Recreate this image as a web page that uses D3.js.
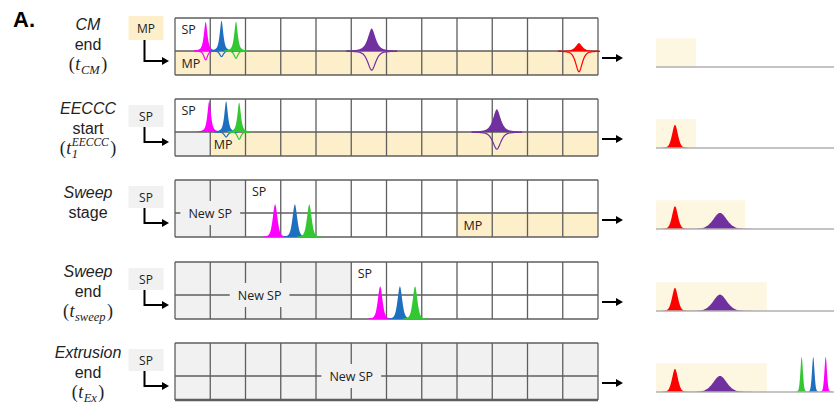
<!DOCTYPE html>
<html>
<head>
<meta charset="utf-8">
<script src="https://cdn.jsdelivr.net/npm/d3@7"></script>
<style>
  body { margin: 0; background: #fff; }
  svg { display: block; }
</style>
</head>
<body>
<svg id="chart" width="834" height="405"></svg>
<script>
// ---- Stage labels --------------------------------------------------------
const stageTitles = ["CM", "EECCC", "Sweep", "Sweep", "Extrusion"];
const stageWords  = ["end", "start", "stage", "end", "end"];
const stageTimes  = [
  { base: "t", sub: "CM" },
  { base: "t", sub: "1", sup: "EECCC" },
  null,
  { base: "t", sub: "sweep" },
  { base: "t", sub: "Ex" }
];
const inletPhase = ["MP", "SP", "SP", "SP", "SP"];

// ---- Column state per stage (in cell units) -------------------------------
const nColumns     = 12;
const newSpUpper   = [0, 0, 2, 5, 12];   // cells of the SP lane filled with new SP
const newSpLower   = [0, 1, 2, 5, 12];   // cells of the MP lane filled with new SP
const mpFrom       = [0, 1, 8, 12, 12];  // first MP-lane cell still holding MP
const spLabelCell  = [0, 0, 2, 5, null];
const mpLabelCell  = [0, 1, 8, null, null];
const newSpCenter  = [null, null, 1, 2.4, 5];

// ---- Solutes ---------------------------------------------------------------
const soluteNames   = ["pink", "blue", "green", "purple", "red"];
const bedWidth      = [0.055, 0.055, 0.055, 0.12, 0.10];   // peak width inside the column (cells)
const elutionWidth  = [0.13, 0.13, 0.13, 0.70, 0.30];      // peak width in the chromatogram

// Peaks inside the column: position (cells), amount in SP lane, amount in MP lane
const lanePeaks = [
  [ { s: "pink",   pos: 0.87,  sp: 0.88, mp: 0.27 },
    { s: "blue",   pos: 1.32,  sp: 0.92, mp: 0.17 },
    { s: "green",  pos: 1.73,  sp: 0.89, mp: 0.22 },
    { s: "purple", pos: 5.58,  sp: 0.68, mp: 0.58 },
    { s: "red",    pos: 11.46, sp: 0.24, mp: 0.63 } ],
  [ { s: "pink",   pos: 0.97,  sp: 0.94, mp: 0.00 },
    { s: "blue",   pos: 1.45,  sp: 0.93, mp: 0.15 },
    { s: "green",  pos: 1.82,  sp: 0.89, mp: 0.22 },
    { s: "purple", pos: 9.13,  sp: 0.69, mp: 0.52 } ],
  [], [], []
];
// Peaks carried by the sweep, standing on the column floor
const sweepPeaks = [
  [], [],
  [ { s: "pink", pos: 2.84, h: 0.99 }, { s: "blue", pos: 3.40, h: 0.99 }, { s: "green", pos: 3.81, h: 0.99 } ],
  [ { s: "pink", pos: 5.82, h: 0.99 }, { s: "blue", pos: 6.38, h: 0.99 }, { s: "green", pos: 6.81, h: 0.99 } ],
  []
];

// ---- Detector traces --------------------------------------------------------
const collectedUntil = [4.05, 4.05, 9.0, 11.2, 11.2];
const tracePeaks = [
  [],
  [ { s: "red", t: 1.92, h: 0.66 } ],
  [ { s: "red", t: 1.92, h: 0.65 }, { s: "purple", t: 6.47, h: 0.46 } ],
  [ { s: "red", t: 1.92, h: 0.66 }, { s: "purple", t: 6.47, h: 0.47 } ],
  [ { s: "red", t: 1.92, h: 0.66 }, { s: "purple", t: 6.47, h: 0.46 },
    { s: "green", t: 14.73, h: 1.0 }, { s: "blue", t: 15.9, h: 1.0 }, { s: "pink", t: 17.16, h: 1.0 } ]
];

// ---- Styling ----------------------------------------------------------------
const soluteColor = { pink: "#ff00ff", blue: "#1f6fc0", green: "#33c833", purple: "#7030a0", red: "#ff0000" };
const fillMP    = "#fcefca";
const fillNewSP = "#f1f1f1";
const fillTrace = "#fdf6e1";
const gridColor = "#5e5e5e";
const sans  = "'Liberation Sans', Arial, sans-serif";
const serif = "'Liberation Serif', 'DejaVu Serif', serif";
const cellFont = "'Open Sans', sans-serif";

// ---- Layout -----------------------------------------------------------------
const rowTops   = [18, 99, 180, 262, 343];
const labelTop  = [12, 15, 18, 15, 15];
const laneUpper = 33, laneLower = 24;
const labelX    = 88;

const svg = d3.select("#chart");
const x  = d3.scaleLinear().domain([0, nColumns]).range([175, 598]);
const tx = d3.scaleLinear().domain([0, 18]).range([656, 834]);
const widthOf = s => bedWidth[soluteNames.indexOf(s)];
const elutionOf = s => elutionWidth[soluteNames.indexOf(s)];

// Peak profile: Gaussian core with Lorentzian tails
function profile(d, w, tail) {
  const r = d / w;
  return (1 - tail) * Math.exp(-0.5 * r * r) + tail / (1 + r * r);
}
function samples(center, w, span) {
  const step = w / 8;
  return d3.range(-span * w, span * w + step / 2, step).map(d => ({ p: center + d, d }));
}

svg.append("text")
  .attr("x", 13).attr("y", 27)
  .attr("font-family", "'Liberation Sans', Arial, sans-serif")
  .attr("font-weight", "bold").attr("font-size", 22)
  .text("A.");

// Build "(t_sub^sup)" from pieces laid out left to right
function mathLabel(g, spec, cx, baseline) {
  const grp = g.append("g");
  let cursor = 0;
  const piece = (txt, opts) => {
    const t = grp.append("text")
      .attr("x", cursor + (opts.dx || 0)).attr("y", baseline + (opts.dy || 0))
      .attr("font-family", serif).attr("font-size", opts.size || 18)
      .attr("font-style", opts.italic ? "italic" : "normal")
      .attr("fill", "#222").text(txt);
    return t.node().getComputedTextLength();
  };
  cursor += piece("(", {}) + 0.5;
  cursor += piece(spec.base, { italic: true }) + 0.5;
  const w1 = piece(spec.sub, { italic: true, size: 12.5, dy: 4.5 });
  let w2 = 0;
  if (spec.sup) w2 = piece(spec.sup, { italic: true, size: 11.5, dy: -7.5 });
  cursor += Math.max(w1, w2) + 1.5;
  cursor += piece(")", {});
  grp.attr("transform", `translate(${cx - cursor / 2},0)`);
}

function arrowHead(g, tipX, y) {
  g.append("path")
    .attr("d", `M${tipX - 7},${y - 4} L${tipX},${y} L${tipX - 7},${y + 4} Z`)
    .attr("fill", "#000");
}

stageTitles.forEach((title, i) => {
  const top = rowTops[i], mid = top + laneUpper, bottom = mid + laneLower;
  const g = svg.append("g");
  const y = d3.scaleLinear().domain([0, 1]).range([mid, top]);
  const yFloor = d3.scaleLinear().domain([0, 1]).range([bottom, bottom - laneUpper]);

  // stage label
  const ly = top + labelTop[i];
  g.append("text").attr("x", labelX).attr("y", ly).attr("text-anchor", "middle")
    .attr("font-family", sans).attr("font-style", "italic").attr("font-size", 16)
    .attr("fill", "#222").text(title);
  g.append("text").attr("x", labelX).attr("y", ly + 19.5).attr("text-anchor", "middle")
    .attr("font-family", sans).attr("font-size", 16)
    .attr("fill", "#222").text(stageWords[i]);
  if (stageTimes[i]) mathLabel(g, stageTimes[i], labelX, ly + 39.5);

  // inlet phase box with bent arrow
  const boxY = i === 0 ? top - 2 : top + 6;
  const boxH = i === 0 ? 24 : 22;
  g.append("rect").attr("x", 128.5).attr("y", boxY).attr("width", 35).attr("height", boxH)
    .attr("fill", inletPhase[i] === "MP" ? fillMP : fillNewSP);
  g.append("text").attr("x", 146).attr("y", boxY + boxH / 2 + 4.5).attr("text-anchor", "middle")
    .attr("font-family", cellFont).attr("font-size", 12).attr("fill", "#222").text(inletPhase[i]);
  const ay = top + 43;
  g.append("path").attr("d", `M144.5,${boxY + boxH} V${ay} H162`)
    .attr("fill", "none").attr("stroke", "#000").attr("stroke-width", 2);
  arrowHead(g, 169, ay);

  // cells
  d3.range(nColumns).forEach(c => {
    g.append("rect").attr("x", x(c)).attr("y", top).attr("width", x(c + 1) - x(c)).attr("height", laneUpper)
      .attr("fill", c < newSpUpper[i] ? fillNewSP : "#fff");
    g.append("rect").attr("x", x(c)).attr("y", mid).attr("width", x(c + 1) - x(c)).attr("height", laneLower)
      .attr("fill", c < newSpLower[i] ? fillNewSP : (c >= mpFrom[i] ? fillMP : "#fff"));
  });

  // grid lines
  d3.range(nColumns + 1).forEach(c => {
    g.append("line").attr("x1", x(c)).attr("x2", x(c)).attr("y1", top).attr("y2", bottom)
      .attr("stroke", gridColor).attr("stroke-width", 1.3);
  });
  [top, mid, bottom].forEach(yy => {
    g.append("line").attr("x1", x(0)).attr("x2", x(nColumns)).attr("y1", yy).attr("y2", yy)
      .attr("stroke", gridColor).attr("stroke-width", (i === 4 && yy === bottom) ? 2.4 : 1.3);
  });

  // partitioned peaks: SP share above the lane boundary, MP share below it
  lanePeaks[i].forEach(pk => {
    const w = widthOf(pk.s), pts = samples(pk.pos, w, 6);
    g.append("path").datum(pts)
      .attr("d", d3.area().x(d => x(d.p)).y0(y(0)).y1(d => y(pk.sp * profile(d.d, w, 0.7))))
      .attr("fill", soluteColor[pk.s]);
    if (pk.mp > 0) {
      g.append("path").datum(pts)
        .attr("d", d3.line().x(d => x(d.p)).y(d => y(-pk.mp * profile(d.d, w, 0.55))))
        .attr("fill", "none").attr("stroke", soluteColor[pk.s]).attr("stroke-width", 1.2);
    }
  });

  // peaks moving with the sweep
  sweepPeaks[i].forEach(pk => {
    const w = widthOf(pk.s) * 1.25, pts = samples(pk.pos, w, 5);
    g.append("path").datum(pts)
      .attr("d", d3.area().x(d => x(d.p)).y0(yFloor(0)).y1(d => yFloor(pk.h * profile(d.d, w, 0.4))))
      .attr("fill", soluteColor[pk.s]);
  });

  // lane labels
  if (spLabelCell[i] !== null) {
    g.append("text").attr("x", x(spLabelCell[i]) + 6.5).attr("y", top + 16)
      .attr("font-family", cellFont).attr("font-size", 12.5).attr("fill", "#222").text("SP");
  }
  if (mpLabelCell[i] !== null) {
    g.append("text").attr("x", x(mpLabelCell[i]) + (i === 1 ? 3.5 : 6.5)).attr("y", mid + laneLower / 2 + 4.5)
      .attr("font-family", cellFont).attr("font-size", 12.5).attr("fill", "#222").text("MP");
  }
  if (newSpCenter[i] !== null) {
    const lbl = g.append("g");
    const bg = lbl.append("rect").attr("fill", fillNewSP);
    const t = lbl.append("text").attr("x", x(newSpCenter[i])).attr("y", mid + 4.5)
      .attr("text-anchor", "middle").attr("font-family", cellFont).attr("font-size", 12.5)
      .attr("fill", "#222").text("New SP");
    const tw = t.node().getComputedTextLength();
    bg.attr("x", x(newSpCenter[i]) - tw / 2 - 8).attr("width", tw + 16)
      .attr("y", mid - 12).attr("height", 24);
  }

  // outlet arrow
  const oy = top + 40;
  g.append("line").attr("x1", 602).attr("x2", 616).attr("y1", oy).attr("y2", oy)
    .attr("stroke", "#000").attr("stroke-width", 2);
  arrowHead(g, 623, oy);

  // detector trace
  const base = top + 49;
  const ty = d3.scaleLinear().domain([0, 1]).range([base, base - 35]);
  g.append("rect").attr("x", tx(0)).attr("y", ty(0.82)).attr("width", tx(collectedUntil[i]) - tx(0))
    .attr("height", ty(0) - ty(0.82)).attr("fill", fillTrace);
  tracePeaks[i].forEach(pk => {
    const w = elutionOf(pk.s), pts = samples(pk.t, w, 4.5);
    g.append("path").datum(pts)
      .attr("d", d3.area().x(d => tx(d.p)).y0(ty(0)).y1(d => ty(pk.h * profile(d.d, w, 0.25))))
      .attr("fill", soluteColor[pk.s]);
  });
  g.append("line").attr("x1", tx(0)).attr("x2", tx(18)).attr("y1", base).attr("y2", base)
    .attr("stroke", "#b0b0b0").attr("stroke-width", 1.6);
});
</script>
</body>
</html>
